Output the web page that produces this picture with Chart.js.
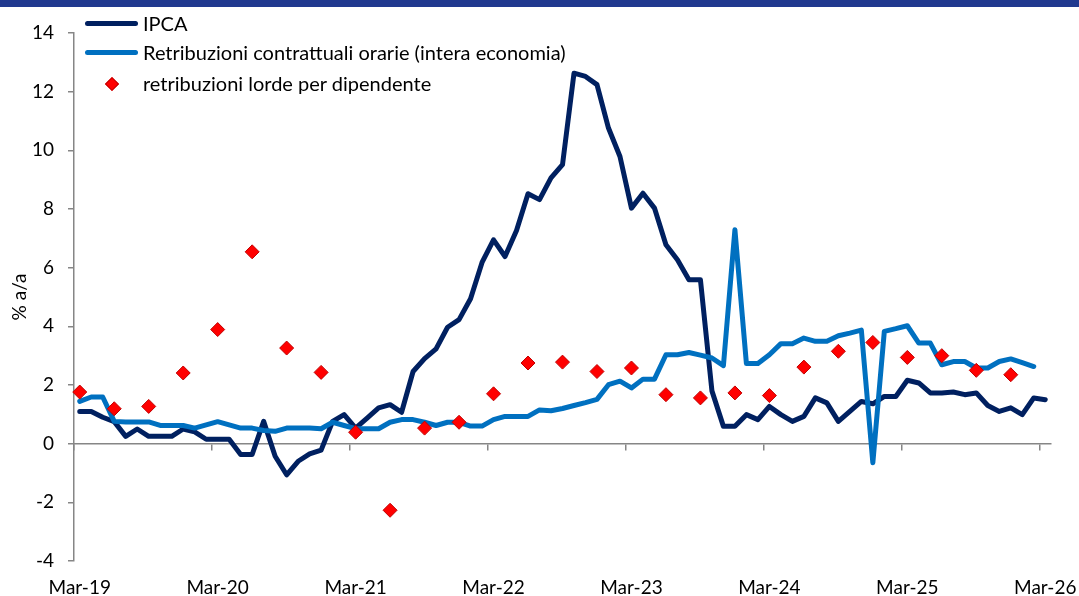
<!DOCTYPE html>
<html>
<head>
<meta charset="utf-8">
<script src="https://cdn.jsdelivr.net/npm/chart.js@4.4.1/dist/chart.umd.min.js"></script>
<style>
  body { margin: 0; background: #fff; }
  #wrap { position: relative; width: 1079px; height: 596px; overflow: hidden; }
  #band { position: absolute; left: 0; top: 0; width: 1079px; height: 7px; background: #21398f; }
  .leg { position: absolute; left: 0; width: 700px; height: 24px; line-height: 24px; font: 20px Lato, sans-serif; color: #000; white-space: nowrap; }
  .leg .ln { position: absolute; left: 85px; top: 9.5px; width: 53px; height: 5px; border-radius: 3px; }
  .leg .tx { position: absolute; left: 143px; top: 0; }
  .leg .dm { position: absolute; left: 107px; top: 7.5px; width: 8px; height: 8px; background: #ff0000; border: 1px solid #c00000; transform: rotate(45deg); }
</style>
</head>
<body>
<div id="wrap">
  <canvas id="chart" width="1079" height="596"></canvas>
  <div id="band"></div>
  <div id="legend"></div>
</div>
<script>
// mesi da Mar-19 a Mar-26
const monthNames = ['Jan', 'Feb', 'Mar', 'Apr', 'May', 'Jun', 'Jul', 'Aug', 'Sep', 'Oct', 'Nov', 'Dec'];
const months = [];
for (let k = 0; k < 85; k++) {
    const m = (2 + k) % 12;
    const yy = 19 + Math.floor((2 + k) / 12);
    months.push(monthNames[m] + '-' + yy);
}
const tickLabels = ['Mar-19', 'Mar-20', 'Mar-21', 'Mar-22', 'Mar-23', 'Mar-24', 'Mar-25', 'Mar-26'];

// IPCA, variazione % a/a (mensile)
const ipca = [
    1.1, 1.1, 0.9, 0.75, 0.25, 0.5, 0.25, 0.25, 0.25, 0.5, 0.4, 0.15,
    0.15, 0.15, -0.37, -0.37, 0.76, -0.43, -1.06, -0.6, -0.35, -0.22, 0.76, 0.99,
    0.53, 0.87, 1.22, 1.33, 1.07, 2.46, 2.9, 3.23, 3.97, 4.23, 4.94, 6.18,
    6.95, 6.38, 7.27, 8.52, 8.32, 9.06, 9.51, 12.63, 12.52, 12.24, 10.76, 9.79,
    8.03, 8.54, 8.03, 6.78, 6.27, 5.59, 5.59, 1.8, 0.59, 0.59, 0.99, 0.82,
    1.27, 0.99, 0.76, 0.93, 1.56, 1.39, 0.76, 1.1, 1.44, 1.36, 1.61, 1.61,
    2.16, 2.07, 1.73, 1.73, 1.76, 1.67, 1.73, 1.3, 1.1, 1.22, 0.99, 1.56,
    1.5
];

// Retribuzioni contrattuali orarie (mensile, fino a Feb-26)
const retribContrattuali = [
    1.44, 1.59, 1.59, 0.76, 0.74, 0.74, 0.74, 0.62, 0.62, 0.62, 0.53, 0.64,
    0.75, 0.64, 0.53, 0.53, 0.45, 0.42, 0.53, 0.53, 0.53, 0.51, 0.73, 0.62,
    0.51, 0.51, 0.51, 0.73, 0.82, 0.82, 0.73, 0.62, 0.73, 0.73, 0.6, 0.6,
    0.82, 0.93, 0.93, 0.93, 1.15, 1.12, 1.2, 1.3, 1.4, 1.51, 2.01, 2.13,
    1.9, 2.2, 2.2, 3.03, 3.03, 3.11, 3.02, 2.92, 2.66, 7.29, 2.73, 2.73,
    3.03, 3.41, 3.41, 3.6, 3.49, 3.49, 3.68, 3.77, 3.87, -0.65, 3.83, 3.92,
    4.02, 3.43, 3.43, 2.69, 2.8, 2.8, 2.58, 2.58, 2.8, 2.89, 2.76, 2.63
];

// retribuzioni lorde per dipendente (trimestrale, un punto ogni 3 mesi da Mar-19)
const retribLorde = [
    1.76, 1.19, 1.27, 2.41, 3.89, 6.54, 3.26, 2.43, 0.39, -2.27, 0.53, 0.73,
    1.7, 2.75, 2.78, 2.46, 2.58, 1.67, 1.56, 1.73, 1.64, 2.61, 3.15, 3.45,
    2.94, 3.0, 2.5, 2.35
];

const lordeMensile = months.map((m, i) => (i % 3 === 0 && i / 3 < retribLorde.length) ? retribLorde[i / 3] : null);

const seriesNames = ['IPCA', 'Retribuzioni contrattuali orarie (intera economia)', 'retribuzioni lorde per dipendente'];
const colors = ['#002060', '#0070c0', '#ff0000'];
const axisGray = '#868686';
const tickFont = { family: 'Lato, sans-serif', size: 19 };

// legenda
const legend = document.getElementById('legend');
const rowsY = [11, 40, 71];
seriesNames.forEach((name, k) => {
    const row = document.createElement('div');
    row.className = 'leg';
    row.style.top = rowsY[k] + 'px';
    const mark = document.createElement('div');
    if (k < 2) {
        mark.className = 'ln';
        mark.style.background = colors[k];
    } else {
        mark.className = 'dm';
    }
    const tx = document.createElement('span');
    tx.className = 'tx';
    tx.textContent = name;
    row.appendChild(mark);
    row.appendChild(tx);
    legend.appendChild(row);
});

const ctx = document.getElementById('chart').getContext('2d');
const chart = new Chart(ctx, {
    type: 'line',
    data: {
        labels: months,
        datasets: [
            {
                label: seriesNames[2],
                data: lordeMensile,
                showLine: false,
                pointStyle: 'rectRot',
                pointRadius: 7,
                pointBackgroundColor: '#ff0000',
                pointBorderColor: '#c00000',
                pointBorderWidth: 1,
                order: 0
            },
            {
                label: seriesNames[1],
                data: retribContrattuali,
                borderColor: colors[1],
                borderWidth: 5,
                pointRadius: 0,
                order: 1
            },
            {
                label: seriesNames[0],
                data: ipca,
                borderColor: colors[0],
                borderWidth: 5,
                pointRadius: 0,
                order: 2
            }
        ]
    },
    options: {
        responsive: false,
        animation: false,
        layout: { padding: { top: 33, right: 28, left: 0, bottom: 0 } },
        elements: { line: { tension: 0, borderCapStyle: 'round', borderJoinStyle: 'round' } },
        plugins: { legend: { display: false }, tooltip: { enabled: false } },
        scales: {
            x: {
                type: 'category',
                position: { y: 0 },
                offset: true,
                grid: {
                    offset: true,
                    drawOnChartArea: false,
                    tickLength: 6,
                    lineWidth: 1.5,
                    color: c => (c.index % 12 === 0 ? axisGray : 'rgba(0,0,0,0)')
                },
                border: { color: axisGray, width: 1.5 },
                ticks: { display: false }
            },
            xLabels: {
                type: 'category',
                labels: months,
                position: 'bottom',
                offset: true,
                grid: { display: false },
                border: { display: false },
                ticks: {
                    autoSkip: false,
                    maxRotation: 0,
                    padding: 7,
                    color: '#000',
                    font: tickFont,
                    callback: function (v) {
                        const l = this.getLabelForValue(v);
                        return tickLabels.includes(l) ? l : '';
                    }
                },
                afterFit: s => {
                    s.height = 35;
                    s.paddingLeft = 0;
                    s.paddingRight = 0;
                }
            },
            y: {
                min: -4,
                max: 14,
                ticks: { stepSize: 2, padding: 14, color: '#000', font: tickFont },
                grid: { drawOnChartArea: false, tickLength: 6, color: axisGray, lineWidth: 1.5 },
                border: { color: axisGray, width: 1.5 },
                title: { display: true, text: '% a/a', color: '#000', font: tickFont, padding: { top: 8, bottom: 0 } },
                afterFit: s => { s.width = 74; }
            }
        }
    }
});
</script>
</body>
</html>
